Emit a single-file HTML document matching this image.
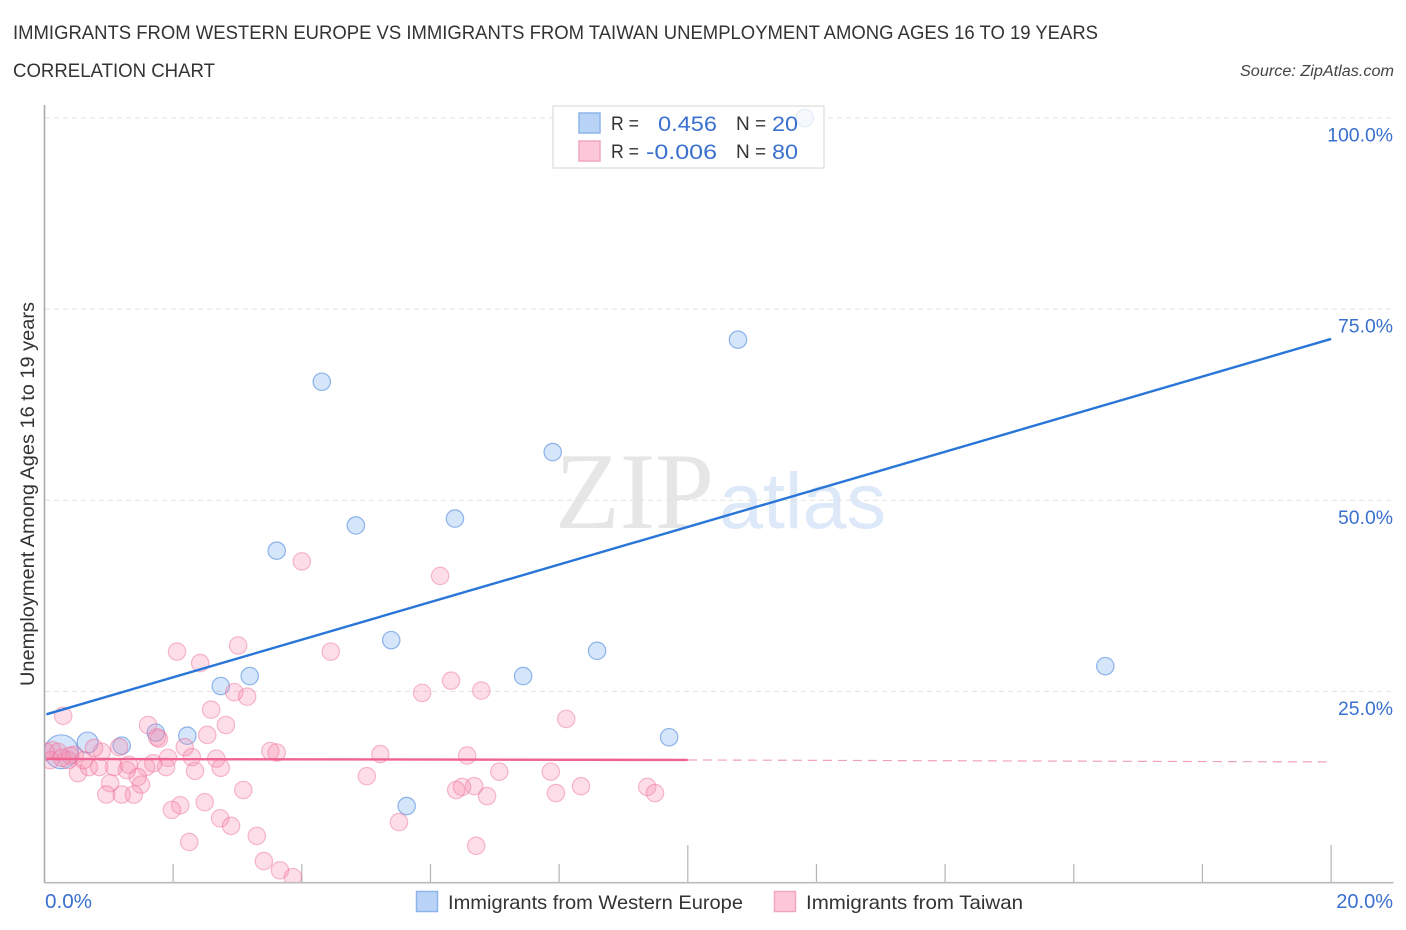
<!DOCTYPE html>
<html lang="en">
<head>
<meta charset="utf-8">
<title>Immigrants from Western Europe vs Immigrants from Taiwan Unemployment Correlation Chart</title>
<style>
html,body{margin:0;padding:0;background:#fff;width:1406px;height:930px;overflow:hidden}
svg{display:block;font-family:"Liberation Sans",sans-serif}
</style>
</head>
<body>
<svg id="chart" xmlns="http://www.w3.org/2000/svg" width="1406" height="930" viewBox="0 0 1406 930">
  <defs>
    <clipPath id="plot-clip"><rect x="45" y="100" width="1350" height="782"/></clipPath>
  </defs>
  <rect x="0" y="0" width="1406" height="930" fill="#fff"/>
  <text x="13" y="39" font-size="19" fill="#333" textLength="1085" lengthAdjust="spacingAndGlyphs">IMMIGRANTS FROM WESTERN EUROPE VS IMMIGRANTS FROM TAIWAN UNEMPLOYMENT AMONG AGES 16 TO 19 YEARS</text>
  <text x="13" y="77" font-size="19" fill="#333" textLength="202" lengthAdjust="spacingAndGlyphs">CORRELATION CHART</text>
  <text x="1394" y="76" font-size="15.5" font-style="italic" fill="#444" text-anchor="end" textLength="154" lengthAdjust="spacingAndGlyphs">Source: ZipAtlas.com</text>

  <text x="555" y="528" font-family="'Liberation Serif',serif" font-size="109" fill="#e6e6e6" textLength="159" lengthAdjust="spacingAndGlyphs">ZIP</text>
  <text x="719" y="528" font-size="79" fill="#dde9f9" textLength="167" lengthAdjust="spacingAndGlyphs">atlas</text>

  <g id="grid"></g>
  <g id="axes"></g>
  <g id="blue-points" clip-path="url(#plot-clip)"></g>
  <g id="pink-points" clip-path="url(#plot-clip)"></g>
  <g id="trends"></g>
  <g id="labels"></g>

  <text transform="translate(34,686) rotate(-90)" font-size="19" fill="#333" textLength="384" lengthAdjust="spacingAndGlyphs">Unemployment Among Ages 16 to 19 years</text>

  <g>
    <rect x="553" y="106" width="271" height="62" fill="#fff" fill-opacity="0.75" stroke="#dcdcdc" stroke-width="1.2"/>
    <rect x="579" y="113" width="21" height="20" fill="#b9d3f7" stroke="#8db5ea" stroke-width="1.5"/>
    <rect x="579" y="141" width="21" height="20" fill="#fcc8d9" stroke="#f3a6c0" stroke-width="1.5"/>
    <g font-size="21">
      <text x="611" y="130" fill="#333" font-size="19" textLength="28" lengthAdjust="spacingAndGlyphs">R =</text>
      <text x="717" y="131" fill="#3a70cf" text-anchor="end" textLength="59" lengthAdjust="spacingAndGlyphs">0.456</text>
      <text x="736" y="130" fill="#333" font-size="19">N =</text>
      <text x="772" y="131" fill="#3a70cf" textLength="26" lengthAdjust="spacingAndGlyphs">20</text>
      <text x="611" y="158" fill="#333" font-size="19" textLength="28" lengthAdjust="spacingAndGlyphs">R =</text>
      <text x="717" y="159" fill="#3a70cf" text-anchor="end" textLength="71" lengthAdjust="spacingAndGlyphs">-0.006</text>
      <text x="736" y="158" fill="#333" font-size="19">N =</text>
      <text x="772" y="159" fill="#3a70cf" textLength="26" lengthAdjust="spacingAndGlyphs">80</text>
    </g>
  </g>

  <g>
    <rect x="416.5" y="891.5" width="21" height="20" fill="#b9d3f7" stroke="#8db5ea" stroke-width="1.5"/>
    <text x="448" y="909" font-size="19.5" fill="#333" textLength="295" lengthAdjust="spacingAndGlyphs">Immigrants from Western Europe</text>
    <rect x="774.5" y="891.5" width="21" height="20" fill="#fcc8d9" stroke="#f3a6c0" stroke-width="1.5"/>
    <text x="806" y="909" font-size="19.5" fill="#333" textLength="217" lengthAdjust="spacingAndGlyphs">Immigrants from Taiwan</text>
  </g>
</svg>
<script>
var xTickValues = [0, 2, 4, 6, 8, 10, 12, 14, 16, 18, 20];
var xMajorTicks = [10, 20];
var yGridValues = [25, 50, 75, 100];
var yTickLabels = ["25.0%", "50.0%", "75.0%", "100.0%"];
var xEndLabels = ["0.0%", "20.0%"];

var blueX = [11.82, 10.78, 4.31, 7.90, 4.84, 6.38, 3.61, 5.39, 8.59, 7.44, 3.19, 2.74, 16.49, 2.22, 1.73, 9.71, 5.63, 1.20, 0.67, 0.26];
var blueY = [100.0, 71.0, 65.5, 56.3, 46.7, 47.6, 43.4, 31.7, 30.3, 27.0, 27.0, 25.7, 28.3, 19.2, 19.6, 19.0, 10.0, 17.9, 18.3, 17.1];
var blueWeight = [1, 1, 1, 1, 1, 1, 1, 1, 1, 1, 1, 1, 1, 1, 1, 1, 1, 1, 1.46, 3.8];

var pinkX = [0.29, 1.61, 2.59, 2.42, 2.95, 3.15, 2.82, 2.53, 2.06, 1.78, 1.75, 2.18, 2.29, 2.67, 2.74, 2.34, 1.92, 1.89, 1.69, 1.58, 1.28, 1.08, 1.45, 1.50, 1.02, 0.96, 1.20, 1.39, 2.11, 1.98, 2.49, 3.09, 2.73, 2.90, 3.30, 2.25, 3.41, 3.66, 3.86, 3.51, 3.61, 1.16, 0.89, 0.77, 0.47, 0.52, 0.69, 0.61, 0.12, 0.21, 0.37, 0.09, 1.31, 5.87, 6.32, 6.79, 8.11, 5.22, 6.57, 5.01, 7.07, 7.87, 8.34, 7.95, 6.68, 6.49, 6.40, 6.88, 9.37, 9.49, 5.51, 6.71, 4.00, 6.15, 4.45, 3.01, 0.02, 0.27, 0.40, 0.85];
var pinkY = [21.8, 20.6, 22.6, 28.7, 24.9, 24.3, 20.6, 19.3, 30.2, 18.8, 19.0, 17.7, 16.4, 16.2, 15.0, 14.6, 16.3, 15.1, 15.6, 15.1, 14.7, 15.1, 13.8, 12.8, 13.0, 11.5, 11.5, 11.5, 10.1, 9.5, 10.5, 12.1, 8.4, 7.4, 6.1, 5.3, 2.8, 1.6, 0.7, 17.2, 17.0, 17.7, 17.1, 17.6, 16.7, 14.3, 15.1, 16.0, 17.3, 17.1, 16.0, 16.0, 15.4, 24.8, 26.4, 25.1, 21.4, 16.8, 16.6, 13.9, 14.5, 14.5, 12.6, 11.7, 12.6, 12.5, 12.1, 11.3, 12.5, 11.7, 7.9, 4.8, 42.0, 40.1, 30.2, 31.0, 17.1, 16.3, 16.6, 15.1];

var blueTrendX = [0.03, 20];
var blueTrendY = [22.0, 71.1];
var pinkSolidX = [0.03, 10];
var pinkSolidY = [16.16, 16.03];
var pinkDashX = [10, 20];
var pinkDashY = [16.03, 15.77];

var NS = 'http://www.w3.org/2000/svg';
function xScale(v) { return 44.5 + v * 64.33; }
function yScale(v) { return 882.5 - v * 7.645; }
function make(tag, parentId, attrs) {
  var el = document.createElementNS(NS, tag);
  for (var k in attrs) { el.setAttribute(k, attrs[k]); }
  document.getElementById(parentId).appendChild(el);
  return el;
}

yGridValues.forEach(function (v, i) {
  var grid = make('line', 'grid', { x1: 45, x2: 1394, y1: yScale(v), y2: yScale(v), stroke: '#e2e2e2', 'stroke-width': 1, 'stroke-dasharray': '5 4' });
  
  
  var label = make('text', 'labels', { x: 1393, y: yScale(v) + 23.6, 'font-size': 19.4, fill: '#3a70cf', 'text-anchor': 'end' });
  label.textContent = yTickLabels[i];
  
  
});

var yAxis = make('line', 'axes', { x1: 44.5, x2: 44.5, y1: 105, y2: 883.5, stroke: '#aaa', 'stroke-width': 1.6 });


var xAxis = make('line', 'axes', { x1: 44, x2: 1393.5, y1: 882.7, y2: 882.7, stroke: '#bbb', 'stroke-width': 1.6 });


xTickValues.forEach(function (v) {
  if (v === 0) { return; }
  var top = xMajorTicks.indexOf(v) >= 0 ? 845 : 864;
  var tick = make('line', 'axes', { x1: xScale(v), x2: xScale(v), y1: top, y2: 882, stroke: '#b4b4b4', 'stroke-width': 1.2 });
  
  
});

var xLabelLeft = make('text', 'labels', { x: 45, y: 908, 'font-size': 20, fill: '#3a70cf', textLength: 47, lengthAdjust: 'spacingAndGlyphs' });
xLabelLeft.textContent = xEndLabels[0];


var xLabelRight = make('text', 'labels', { x: 1393, y: 908, 'font-size': 20, fill: '#3a70cf', 'text-anchor': 'end' });
xLabelRight.textContent = xEndLabels[1];



blueX.forEach(function (v, i) {
  var c = make('circle', 'blue-points', { cx: xScale(v), cy: yScale(blueY[i]), r: 8.7 * Math.sqrt(blueWeight[i]), fill: '#8ab6f2', 'fill-opacity': 0.36, stroke: '#4d88dd', 'stroke-opacity': 0.6, 'stroke-width': 1.2 });
  
  
});
pinkX.forEach(function (v, i) {
  var c = make('circle', 'pink-points', { cx: xScale(v), cy: yScale(pinkY[i]), r: 8.7, fill: '#f78fb0', 'fill-opacity': 0.3, stroke: '#ec6c96', 'stroke-opacity': 0.45, 'stroke-width': 1.2 });
  
  
});

var blueTrend = make('line', 'trends', { x1: xScale(blueTrendX[0]), y1: yScale(blueTrendY[0]), x2: xScale(blueTrendX[1]), y2: yScale(blueTrendY[1]), stroke: '#2a76d8', 'stroke-width': 2.4 });


var pinkSolid = make('line', 'trends', { x1: xScale(pinkSolidX[0]), y1: yScale(pinkSolidY[0]), x2: xScale(pinkSolidX[1]), y2: yScale(pinkSolidY[1]), stroke: '#f0628f', 'stroke-width': 2.4 });


var pinkDash = make('line', 'trends', { x1: xScale(pinkDashX[0]), y1: yScale(pinkDashY[0]), x2: xScale(pinkDashX[1]), y2: yScale(pinkDashY[1]), stroke: '#f0a0ba', 'stroke-width': 1.2, 'stroke-dasharray': '9 6' });


</script>
</body>
</html>
